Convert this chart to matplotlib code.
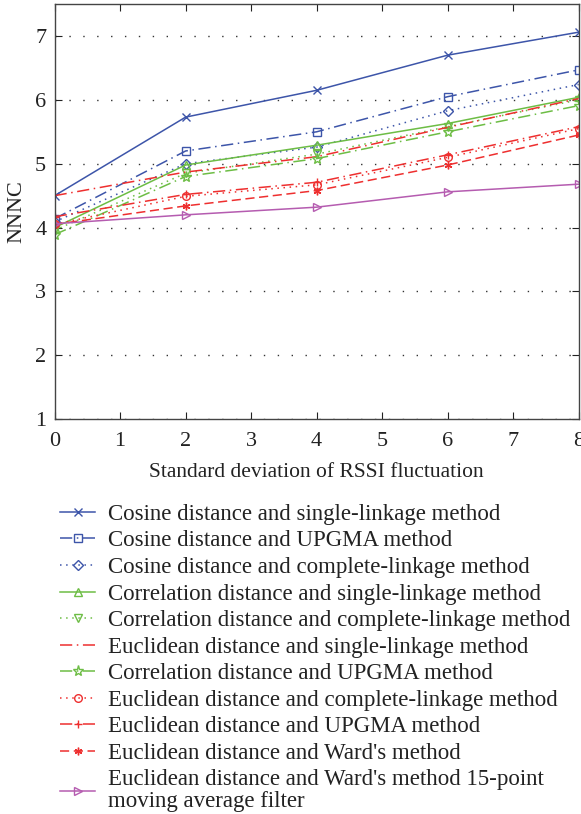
import matplotlib
matplotlib.use("Agg")
import matplotlib.pyplot as plt

plt.rcParams['font.family'] = ['Liberation Serif', 'DejaVu Serif']

# RSSI fluctuation std (x) and NNNC values
sigma = [0, 2, 4, 6, 8]

cos_single = [4.50, 5.73, 6.15, 6.70, 7.06]
cos_upgma = [4.14, 5.20, 5.50, 6.05, 6.47]
cos_complete = [4.09, 5.00, 5.26, 5.83, 6.24]
corr_single = [4.00, 4.98, 5.29, 5.63, 6.04]
corr_complete = [3.96, 4.85, 5.15, 5.58, 6.00]
euc_single = [4.50, 4.87, 5.11, 5.57, 6.02]
corr_upgma = [3.89, 4.80, 5.08, 5.50, 5.91]
euc_complete = [4.05, 4.49, 4.67, 5.10, 5.55]
euc_upgma = [4.17, 4.52, 4.71, 5.14, 5.58]
euc_ward = [4.05, 4.34, 4.58, 4.98, 5.45]
euc_ward_filt = [4.06, 4.20, 4.32, 4.56, 4.68]

labels = [
    "Cosine distance and single-linkage method",
    "Cosine distance and UPGMA method",
    "Cosine distance and complete-linkage method",
    "Correlation distance and single-linkage method",
    "Correlation distance and complete-linkage method",
    "Euclidean distance and single-linkage method",
    "Correlation distance and UPGMA method",
    "Euclidean distance and complete-linkage method",
    "Euclidean distance and UPGMA method",
    "Euclidean distance and Ward's method",
    "Euclidean distance and Ward's method 15-point\nmoving average filter",
]

blue = '#3d55a9'
green = '#6dbd45'
red = '#ee2f2f'
magenta = '#b55cb0'
dashdot = (0, (8, 3, 1, 3))
dotted = (0, (1, 3))

styles = [
    (cos_single, blue, '-', 'x'),
    (cos_upgma, blue, dashdot, 's'),
    (cos_complete, blue, dotted, 'D'),
    (corr_single, green, '-', '^'),
    (corr_complete, green, dotted, 'v'),
    (euc_single, red, dashdot, None),
    (corr_upgma, green, dashdot, '*'),
    (euc_complete, red, dotted, 'o'),
    (euc_upgma, red, dashdot, '+'),
    (euc_ward, red, (0, (6, 3)), (6, 2, 0)),
    (euc_ward_filt, magenta, '-', '>'),
]

fig = plt.figure(figsize=(5.81, 8.14), dpi=100)
ax = fig.add_axes([0.094, 0.485, 0.902, 0.51])

for (vals, col, ls, mk), lab in zip(styles, labels):
    ms = 5.5
    if mk == 'D':
        ms = 5
    if mk == '*':
        ms = 8
    ax.plot(sigma, vals, color=col, linestyle=ls, linewidth=1.1,
            marker=mk, markersize=ms, markerfacecolor='none',
            markeredgecolor=col, markeredgewidth=1.0, label=lab)

ax.set_xlim(0, 8)
ax.set_ylim(1, 7.5)
ax.set_xticks(range(0, 9))
ax.set_yticks(range(1, 8))
ax.tick_params(direction='in', top=True, right=True, length=5,
               labelsize=16, colors='#222222')
ax.tick_params(axis='x', pad=9)
ax.tick_params(axis='y', pad=6)
ax.yaxis.grid(True, color='#333333', linestyle=(0, (1, 9)), linewidth=1.0)
for s in ax.spines.values():
    s.set_color('#444444')
    s.set_linewidth(1.0)

ax.set_xlabel("Standard deviation of RSSI fluctuation", fontsize=15.5,
              color='#222222', labelpad=9)
ax.set_ylabel("NNNC", fontsize=16, color='#222222', labelpad=6)

leg = ax.legend(loc='upper left', bbox_to_anchor=(0.103, 0.381),
                bbox_transform=fig.transFigure, frameon=False,
                fontsize=16.5, handlelength=1.55, labelspacing=0.24,
                handletextpad=0.55, borderpad=0, borderaxespad=0)
for t in leg.get_texts():
    t.set_color('#222222')
    t.set_linespacing(1.05)

fig.savefig("out.png", dpi=100)
